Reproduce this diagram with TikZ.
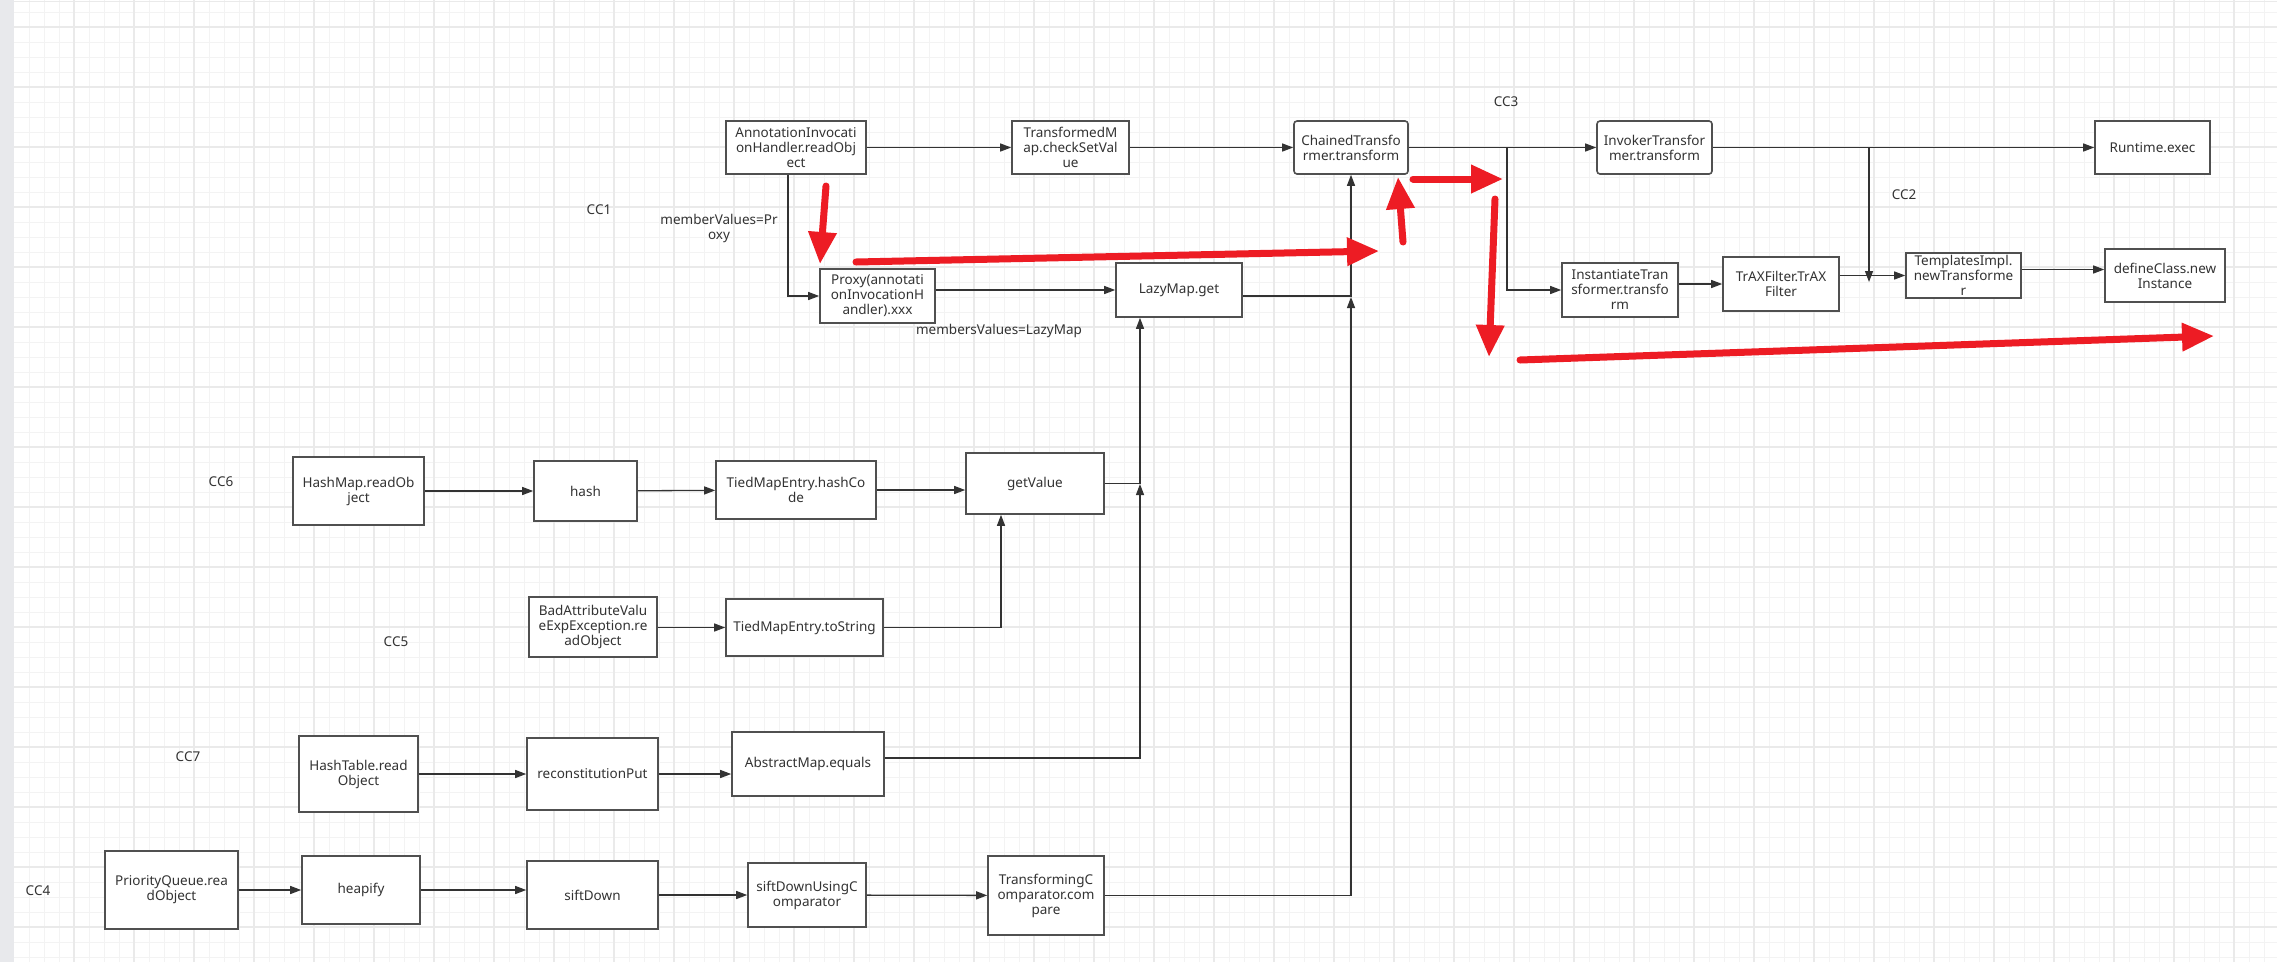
\documentclass[tikz,border=0pt]{standalone}
\usepackage{fontspec}
\setmainfont{Noto Sans}
\usetikzlibrary{arrows.meta}
\definecolor{boxc}{HTML}{505050}
\definecolor{linec}{HTML}{333333}
\definecolor{txtc}{HTML}{333333}
\definecolor{redc}{HTML}{ED1C24}
\definecolor{gridminor}{HTML}{F3F3F3}
\definecolor{gridmajor}{HTML}{EAEAEA}
\definecolor{stripc}{HTML}{E8E9EC}
\begin{document}
\begin{tikzpicture}[x=1pt,y=-1pt,
  box/.style={draw=boxc, line width=1.6pt, fill=white, align=center, inner sep=0pt, text=txtc, font=\fontsize{13.5}{15}\selectfont},
  rbox/.style={box, rounded corners=3pt},
  arr/.style={draw=linec, line width=1.3pt, -{Triangle[length=11pt,width=8pt]}},
  redarr/.style={draw=redc, line width=7pt, line cap=round, -{Triangle[length=32pt,width=27pt]}},
  lbl/.style={text=txtc, font=\fontsize{13.5}{15}\selectfont, align=center, inner sep=0pt}]
\useasboundingbox (0,0) rectangle (2277,962);
\fill[white] (0,0) rectangle (2277,962);
% grid
\foreach \x in {29,44,...,2277} \draw[gridminor, line width=1pt] (\x,0) -- (\x,962);
\foreach \y in {12,27,...,962} \draw[gridminor, line width=1pt] (14,\y) -- (2277,\y);
\foreach \x in {74,134,...,2277} \draw[gridmajor, line width=1.4pt] (\x,0) -- (\x,962);
\foreach \y in {27,87,...,962} \draw[gridmajor, line width=1.4pt] (14,\y) -- (2277,\y);
\fill[stripc] (0,0) rectangle (14,962);
\draw[gridmajor, line width=1.2pt] (14,1.5) -- (2277,1.5);

% top row
\node[box, minimum width=140pt, minimum height=53pt] (ann) at (796,147.5) {AnnotationInvocati\\onHandler.readObj\\ect};
\node[box, minimum width=117pt, minimum height=53pt] (tmap) at (1070.5,147.5) {TransformedM\\ap.checkSetVal\\ue};
\node[rbox, minimum width=114pt, minimum height=53pt] (chain) at (1351,147.5) {ChainedTransfo\\rmer.transform};
\node[rbox, minimum width=115pt, minimum height=53pt] (inv) at (1654.5,147.5) {InvokerTransfor\\mer.transform};
\node[box, minimum width=115pt, minimum height=53pt] (rt) at (2152.5,147.5) {Runtime.exec};

% second row
\node[box, minimum width=115pt, minimum height=54pt] (proxy) at (877.5,296) {Proxy(annotati\\onInvocationH\\andler).xxx};
\node[box, minimum width=126pt, minimum height=54pt] (lazy) at (1179,290) {LazyMap.get};
\node[box, minimum width=116pt, minimum height=54pt] (inst) at (1620,290) {InstantiateTran\\sformer.transfo\\rm};
\node[box, minimum width=116pt, minimum height=54pt] (trax) at (1781,284) {TrAXFilter.TrAX\\Filter};
\node[box, minimum width=115pt, minimum height=45pt] (tmpl) at (1963.5,275.5) {TemplatesImpl.\\newTransforme\\r};
\node[box, minimum width=120pt, minimum height=53pt] (defc) at (2165,275.5) {defineClass.new\\Instance};

% CC6 / CC5
\node[box, minimum width=131pt, minimum height=68pt] (hm) at (358.5,491) {HashMap.readOb\\ject};
\node[box, minimum width=103pt, minimum height=60pt] (hash) at (585.5,491) {hash};
\node[box, minimum width=160pt, minimum height=58pt] (tmeh) at (796,490) {TiedMapEntry.hashCo\\de};
\node[box, minimum width=138pt, minimum height=61pt] (gv) at (1035,483.5) {getValue};
\node[box, minimum width=128pt, minimum height=60pt] (bad) at (593,627) {BadAttributeValu\\eExpException.re\\adObject};
\node[box, minimum width=157pt, minimum height=57pt] (tmes) at (804.5,627.5) {TiedMapEntry.toString};

% CC7
\node[box, minimum width=119pt, minimum height=76pt] (ht) at (358.5,774) {HashTable.read\\Object};
\node[box, minimum width=131pt, minimum height=72pt] (rec) at (592.5,774) {reconstitutionPut};
\node[box, minimum width=152pt, minimum height=64pt] (am) at (808,764) {AbstractMap.equals};

% CC4
\node[box, minimum width=133pt, minimum height=78pt] (pq) at (171.5,890) {PriorityQueue.rea\\dObject};
\node[box, minimum width=118pt, minimum height=68pt] (heap) at (361,890) {heapify};
\node[box, minimum width=131pt, minimum height=68pt] (sd) at (592.5,895) {siftDown};
\node[box, minimum width=118pt, minimum height=64pt] (sduc) at (807,895) {siftDownUsingC\\omparator};
\node[box, minimum width=116pt, minimum height=79pt] (tc) at (1046,895.5) {TransformingC\\omparator.com\\pare};

% labels
\node[lbl] (l1) at (599,210) {CC1};
\node[lbl] (l2) at (719,228) {memberValues=Pr\\oxy};
\node[lbl] (l3) at (999,331) {membersValues=LazyMap};
\node[lbl] (l4) at (1506,102) {CC3};
\node[lbl] (l5) at (1904,195) {CC2};
\node[lbl] (l6) at (221,482) {CC6};
\node[lbl] (l7) at (396,642) {CC5};
\node[lbl] (l8) at (188,757) {CC7};
\node[lbl] (l9) at (38,891) {CC4};

% coordinates
\coordinate (b1) at (1507,147.5);
\coordinate (b2) at (1869,147.5);
\coordinate (j2) at (1869,282);
\coordinate (j1) at (1351,297);
\coordinate (j3) at (1140,484);

% connectors top
\draw[arr] (ann) -- (tmap);
\draw[arr] (tmap) -- (chain);
\draw[arr] (chain) -- (inv);
\draw[arr] (inv) -- (rt);
\draw[arr] (b1) |- (inst.west);
\draw[arr] (b2) -- (j2);
\draw[arr] (inst.east |- trax.west) -- (trax.west);
\draw[arr] (trax.east |- tmpl.west) -- (tmpl.west);
\draw[arr] ([yshift=6pt]tmpl.east) -- ([yshift=6pt]tmpl.east -| defc.west);
\draw[arr] ([xshift=-8pt]ann.south) |- (proxy.west);
\draw[arr] (proxy.east |- lazy.west) -- (lazy.west);
\draw[arr] ([yshift=-6pt]lazy.east) -| (chain.south);
\draw[arr] (tc.east) -| (j1);

% CC6/CC5/CC7
\draw[arr] (hm) -- (hash);
\draw[arr] (hash) -- (tmeh);
\draw[arr] (tmeh.east) -- (tmeh.east -| gv.west);
\draw[arr] (gv.east) -| ([xshift=-39pt]lazy.south);
\draw[arr] (bad.east |- tmes.west) -- (tmes.west);
\draw[arr] (tmes.east) -| ([xshift=-34pt]gv.south);
\draw[arr] (ht) -- (rec);
\draw[arr] (rec.east) -- (rec.east -| am.west);
\draw[arr] ([yshift=6pt]am.east) -| (j3);

% CC4
\draw[arr] (pq) -- (heap);
\draw[arr] (heap.east) -- (heap.east -| sd.west);
\draw[arr] (sd) -- (sduc);
\draw[arr] (sduc) -- (tc);

% red arrows
\draw[redarr] (826,186) -- (820,264);
\draw[redarr] (856,262) -- (1379,251);
\draw[redarr] (1403,242) -- (1398,177);
\draw[redarr] (1413,179) -- (1503,179);
\draw[redarr] (1495,199) -- (1489,357);
\draw[redarr] (1520,360) -- (2214,336);
\end{tikzpicture}
\end{document}
